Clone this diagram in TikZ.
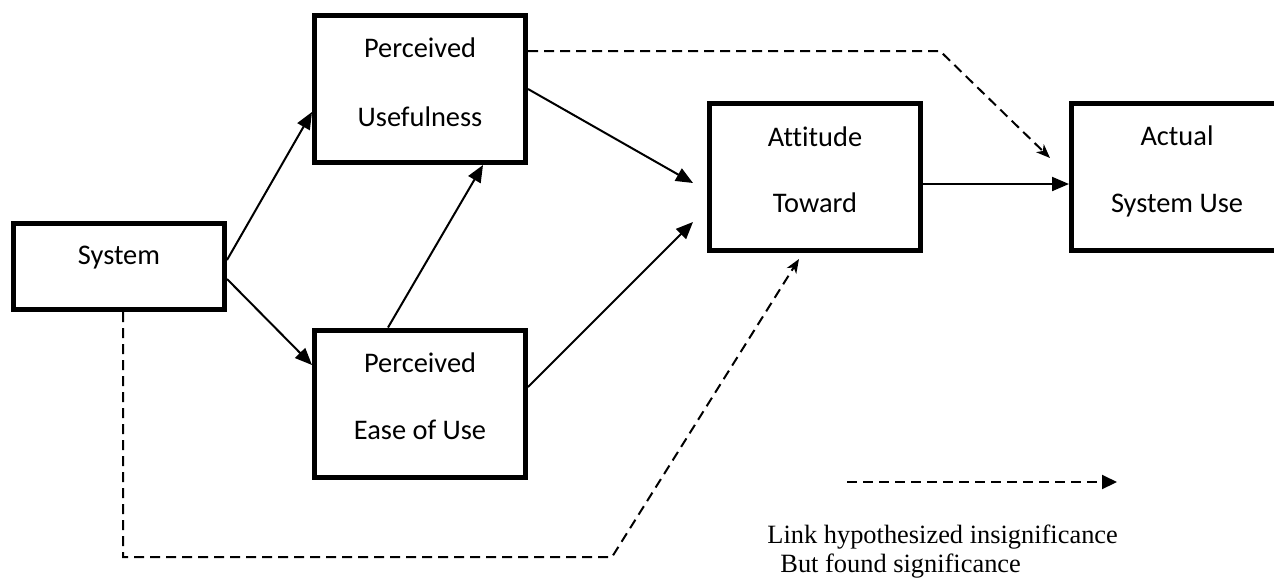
\documentclass[tikz,border=0pt]{standalone}
\usepackage{fontspec}
\setmainfont[Ligatures=NoCommon]{Carlito}
\newfontfamily\legendfont{Liberation Serif}
\usetikzlibrary{arrows.meta,calc}
\begin{document}
\begin{tikzpicture}[x=0.5pt,y=-0.5pt,
  box/.style={draw, line width=2.5pt, minimum width=105.5pt, minimum height=73.5pt, inner sep=0pt},
  boxtext/.style={anchor=base, font=\fontsize{14.2}{16}\selectfont, inner sep=0pt},
  legtext/.style={anchor=base west, font=\legendfont\fontsize{13.2}{15}\selectfont, inner sep=0pt},
  conn/.style={line width=1pt, -{Triangle[length=8.5pt,width=7pt]}},
  dconn/.style={line width=1pt, dash pattern=on 5pt off 3pt, -{Stealth[length=7pt,width=5.5pt,inset=2pt]}},
]
\path[use as bounding box, clip] (0,0) rectangle (1274,579);
\fill[white] (0,0) rectangle (1274,579);

% boxes
\node[box, minimum height=43pt] (sys) at (119,266.5) {};
\node[box] (pu)  at (420,89) {};
\node[box] (eou) at (420,403.5) {};
\node[box] (att) at (815,177) {};
\node[box] (act) at (1177,177) {};

% box texts
\node[boxtext] (syst)  at ($(sys.center)+(0,-2.5)$) {System};
\node[boxtext] (put1)  at ($(pu.center)+(0,-32)$) {Perceived};
\node[boxtext] (put2)  at ($(pu.center)+(0,37)$) {Usefulness};
\node[boxtext] (eout1) at ($(eou.center)+(0,-31.5)$) {Perceived};
\node[boxtext] (eout2) at ($(eou.center)+(0,35.5)$) {Ease of Use};
\node[boxtext] (attt1) at ($(att.center)+(0,-31)$) {Attitude};
\node[boxtext] (attt2) at ($(att.center)+(0,35)$) {Toward};
\node[boxtext] (actt1) at ($(act.center)+(0,-32)$) {Actual};
\node[boxtext] (actt2) at ($(act.center)+(0,35)$) {System Use};

% free ends / bends
\coordinate (attin1) at ($(att.west)+(-14,6)$);
\coordinate (attin2) at ($(att.west)+(-14,45)$);
\coordinate (bend1) at (940,51);
\coordinate (actin) at ($(act.west)+(-19,-19)$);
\coordinate (bend2) at (612,557);
\coordinate (attin3) at ($(att.south)+(-16,6)$);

% solid connectors
\draw[conn] ($(sys.east)+(0,-6.5)$) -- ($(pu.west)+(0,23)$);
\draw[conn] ($(sys.east)+(0,12.5)$) -- ($(eou.west)+(0,-38.5)$);
\draw[conn] ($(eou.north)+(-32,0)$) -- ($(pu.south)+(63,0)$);
\draw[conn] (pu.east) -- (attin1);
\draw[conn] ($(eou.east)+(0,-16.5)$) -- (attin2);
\draw[conn] ($(att.east)+(0,7)$) -- ($(act.west)+(0,7)$);

% dashed connectors
\draw[dconn] ($(pu.east)+(0,-38)$) -- (bend1) -- (actin);
\draw[dconn] ($(sys.south)+(4,0)$) |- (bend2) -- (attin3);

% legend
\coordinate (leg1) at (847,482);
\coordinate (leg2) at (1117,482);
\draw[line width=1pt, dash pattern=on 5pt off 3pt, -{Triangle[length=7.5pt,width=7pt]}] (leg1) -- (leg2);
\node[legtext] (legA) at (767,543) {Link hypothesized insignificance};
\node[legtext] (legB) at (780,572) {But found significance};
\end{tikzpicture}
\end{document}
